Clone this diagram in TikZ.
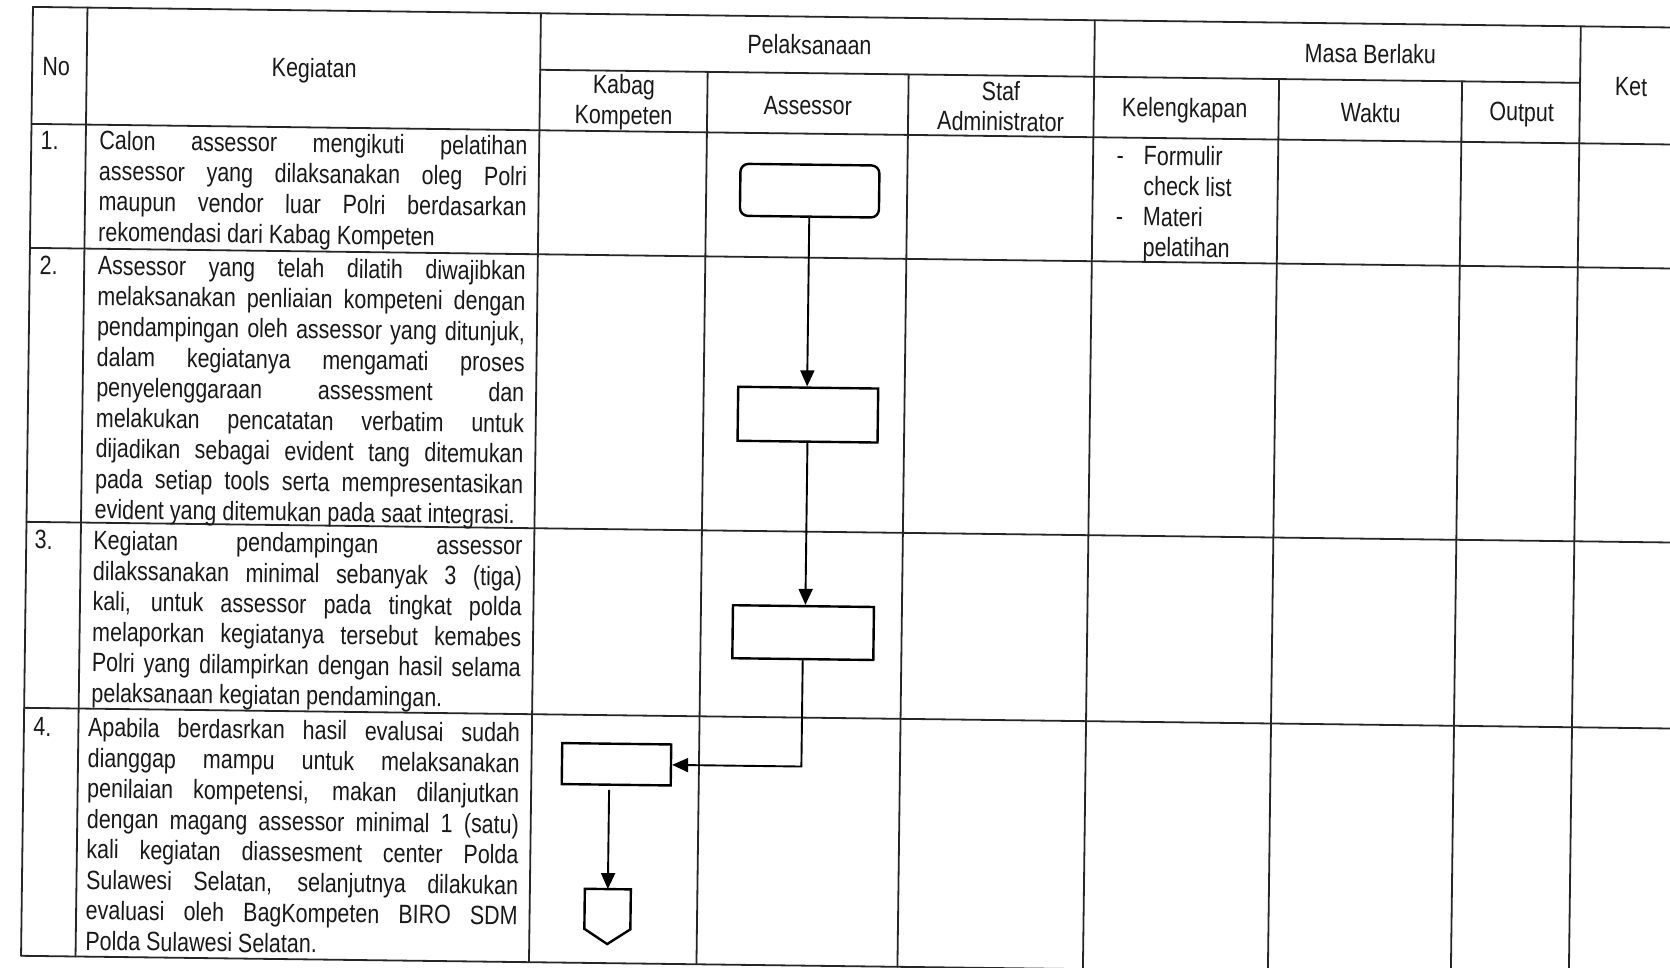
\documentclass[tikz,border=0pt]{standalone}
\usepackage{fontspec}
\setmainfont{Liberation Sans}[FakeStretch=0.81]
\usetikzlibrary{arrows.meta}
\newcommand\fsz{\fontsize{26.5pt}{30.5pt}\selectfont}
\newcommand\jrow[2]{\hbox to #1pt{#2}}
\newcommand\jend[2]{\hbox to #1pt{#2\hfil}}
\tikzset{
  tbl/.style={line width=1.8pt, draw=black!85, line cap=round},
  txt/.style={inner sep=0pt, font=\fsz, text=black!90},
  body/.style={txt, anchor=base west},
  hd/.style={txt, anchor=center, align=center},
  num/.style={txt, anchor=base},
  proc/.style={draw=black, line width=2.4pt, inner sep=0pt},
  arr/.style={line width=1.9pt, draw=black, -{Triangle[length=16pt 0,width=14pt 0]}},
}
\begin{document}
\begin{tikzpicture}[x=1pt,y=1pt]
\useasboundingbox (0,0) rectangle (1670,-968);
\fill[white] (0,0) rectangle (1670,-968);
\begin{scope}[rotate around={-0.72:(835,-484)}, transform shape]
% horizontal lines
\draw[tbl] (27,-17) -- (1700,-17);
\draw[tbl] (535,-73.5) -- (1575,-73.5);
\draw[tbl] (27,-134) -- (1700,-134);
\draw[tbl] (27,-258) -- (1700,-258);
\draw[tbl] (27,-532) -- (1700,-532);
\draw[tbl] (27,-718) -- (1700,-718);
\draw[tbl] (27,-966) -- (1700,-966);
% vertical lines
\foreach \x in {27,81.5,535,1089,1575} \draw[tbl] (\x,-17) -- (\x,-966);
\foreach \x in {702.5,903.5,1274,1457} \draw[tbl] (\x,-73.5) -- (\x,-966);
% headers
\node[hd] (hno) at (51,-76) {No};
\node[hd] (hkeg) at (309,-77) {Kegiatan};
\node[hd] (hpel) at (804,-45) {Pelaksanaan};
\node[hd] (hkab) at (619,-105) {Kabag\\Kompeten};
\node[hd] (hass) at (803,-106) {Assessor};
\node[hd] (hstaf) at (996,-104) {Staf\\Administrator};
\node[hd] (hmasa) at (1365,-47) {Masa Berlaku};
\node[hd] (hkel) at (1180,-106) {Kelengkapan};
\node[hd] (hwak) at (1366,-106) {Waktu};
\node[hd] (hout) at (1517,-106) {Output};
\node[hd] (hket) at (1626,-77) {Ket};
% numbers
\node[num] (n1) at (45.5,-159) {1.};
\node[num] (n2) at (46,-284) {2.};
\node[num] (n3) at (44.5,-559) {3.};
\node[num] (n4) at (45.5,-746) {4.};
% activity texts
\node[body] (k1) at (95,-159) {\vtop{%
\jrow{428}{Calon assessor mengikuti pelatihan}
\jrow{428}{assessor yang dilaksanakan oleg Polri}
\jrow{428}{maupun vendor luar Polri berdasarkan}
\jend{428}{rekomendasi dari Kabag Kompeten}}};
\node[body] (k2) at (95,-284) {\vtop{%
\jrow{428}{Assessor yang telah dilatih diwajibkan}
\jrow{428}{melaksanakan penliaian kompeteni dengan}
\jrow{428}{pendampingan oleh assessor yang ditunjuk,}
\jrow{428}{dalam kegiatanya mengamati proses}
\jrow{428}{penyelenggaraan assessment dan}
\jrow{428}{melakukan pencatatan verbatim untuk}
\jrow{428}{dijadikan sebagai evident tang ditemukan}
\jrow{428}{pada setiap tools serta mempresentasikan}
\jend{428}{evident yang ditemukan pada saat integrasi.}}};
\node[body] (k3) at (94,-559) {\vtop{%
\jrow{429}{Kegiatan pendampingan assessor}
\jrow{429}{dilakssanakan minimal sebanyak 3 (tiga)}
\jrow{429}{kali, untuk assessor pada tingkat polda}
\jrow{429}{melaporkan kegiatanya tersebut kemabes}
\jrow{429}{Polri yang dilampirkan dengan hasil selama}
\jend{429}{pelaksanaan kegiatan pendamingan.}}};
\node[body] (k4) at (91,-746) {\vtop{%
\jrow{432}{Apabila berdasrkan hasil evalusai sudah}
\jrow{432}{dianggap mampu untuk melaksanakan}
\jrow{432}{penilaian kompetensi, makan dilanjutkan}
\jrow{432}{dengan magang assessor minimal 1 (satu)}
\jrow{432}{kali kegiatan diassesment center Polda}
\jrow{432}{Sulawesi Selatan, selanjutnya dilakukan}
\jrow{432}{evaluasi oleh BagKompeten BIRO SDM}
\jend{432}{Polda Sulawesi Selatan.}}};
% kelengkapan
\node[body] (kel1) at (1112.5,-161) {\vtop{%
\hbox{\hbox to 27pt{-\hfil}Formulir}
\hbox{\hbox to 27pt{\hfil}check list}
\hbox{\hbox to 27pt{-\hfil}Materi}
\hbox{\hbox to 27pt{\hfil}pelatihan}}};
% flowchart
\node[proc, rounded corners=8pt, minimum width=139pt, minimum height=52pt] (s1) at (806,-191) {};
\node[proc, minimum width=140pt, minimum height=54pt] (s2) at (807,-415) {};
\node[proc, minimum width=141pt, minimum height=53pt] (s3) at (805,-633) {};
\node[proc, minimum width=109pt, minimum height=41pt] (s4) at (620,-767) {};
\coordinate (endtop) at (613,-892);
\draw[line width=2.4pt, line join=miter] (endtop) ++(-23,0) -- ++(0,-40) -- ++(23,-15) -- ++(23,15) -- ++(0,40) -- cycle;
\draw[arr] (s1.south) -- (s1.south |- s2.north);
\draw[arr] (s2.south) -- (s2.south |- s3.north);
\draw[arr] (s3.south) |- (s4.east);
\draw[arr, shorten <=4pt] (s4.south -| endtop) -- (endtop);
\end{scope}
\end{tikzpicture}
\end{document}
